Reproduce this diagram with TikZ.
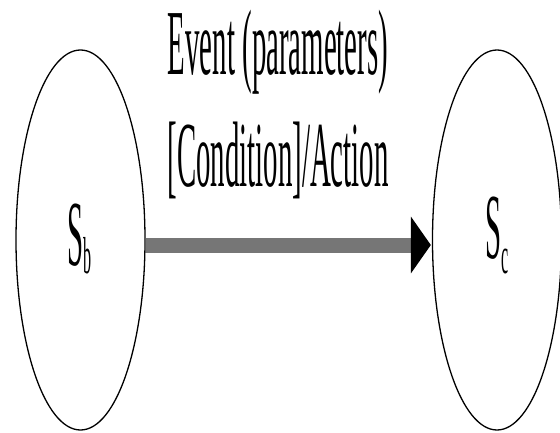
\documentclass[tikz,border=0pt]{standalone}
\usepackage{fontspec}
\setmainfont{Liberation Serif}
\usetikzlibrary{arrows.meta,shapes.geometric}
\definecolor{arrowgray}{RGB}{118,118,118}
\tikzset{
  state/.style={draw=black, line width=1.3pt, ellipse, minimum width=129pt, minimum height=380pt, inner sep=0pt},
  lbl/.style={anchor=base, inner sep=0pt, font=\fontsize{93}{100}\selectfont},
  trans/.style={draw=arrowgray, line width=15pt, -{Triangle[length=20pt,width=56pt,black]}, shorten >=1pt}
}
\newcommand{\sq}[1]{\scalebox{0.31}[1]{#1}}
\begin{document}
\begin{tikzpicture}[x=1pt,y=1pt]
\useasboundingbox (0,0) rectangle (560,432);
\fill[white] (0,0) rectangle (560,432);
\node[state] (sb) at (80.5,192) {};
\node[state] (sc) at (497,192) {};
\node[lbl] (t1) at (278,357) {\sq{Event (parameters)}};
\node[lbl] (t2) at (278,245) {\sq{[Condition]/Action}};
\node[lbl] (lb) at (79.5,167) {\sq{S\raisebox{-8pt}{\fontsize{52}{52}\selectfont b}}};
\node[lbl] (lc) at (497.5,174) {\sq{S\raisebox{-15pt}{\fontsize{52}{52}\selectfont c}}};
\draw[trans] ([yshift=-5pt]sb.east) -- ([yshift=-5pt]sc.west);
\end{tikzpicture}
\end{document}
